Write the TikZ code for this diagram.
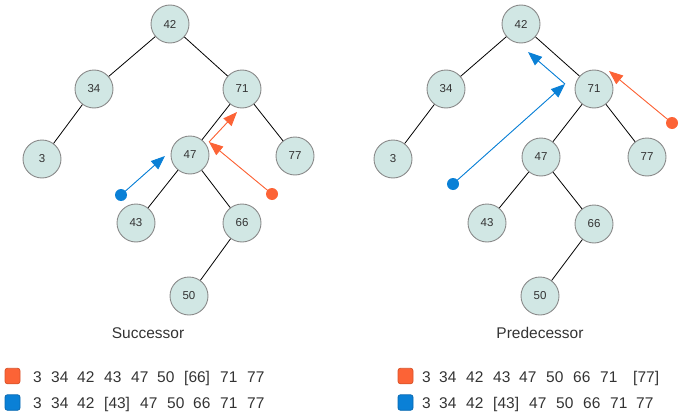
\documentclass[tikz,border=0pt]{standalone}
\usepackage{fontspec}
\setmainfont{Liberation Sans}
\usetikzlibrary{arrows.meta}
\definecolor{nodefill}{HTML}{D1E7E4}
\definecolor{nodeline}{HTML}{8A8A8A}
\definecolor{txt}{HTML}{333333}
\definecolor{org}{HTML}{FC6336}
\definecolor{orgdark}{HTML}{D9542B}
\definecolor{blu}{HTML}{0A80D6}
\definecolor{bludark}{HTML}{0868B0}
\tikzset{
  tnode/.style={circle,draw=nodeline,fill=nodefill,line width=0.9pt,minimum size=38pt,inner sep=0pt,font=\fontsize{11.5}{13}\selectfont,text=txt},
  edge/.style={draw=black,line width=0.8pt},
  dotmark/.style={circle,inner sep=0pt,minimum size=12pt},
  parrow/.style={line width=0.9pt,-{Triangle[length=14pt,width=11pt]}},
  tok/.style={anchor=base west,inner sep=0pt,font=\fontsize{15.5}{18}\selectfont,text=txt},
  lab/.style={font=\fontsize{15.5}{18}\selectfont,text=txt,inner sep=0pt},
  legsq/.style={rounded corners=2.5pt,minimum width=15pt,minimum height=15.5pt,inner sep=0pt,line width=0.8pt}
}
\begin{document}
\begin{tikzpicture}[x=1pt,y=-1pt]
\useasboundingbox (0,0) rectangle (683,415);
% left tree
\node[tnode] (a42) at (170,24) {42};
\node[tnode] (a34) at (94,89) {34};
\node[tnode] (a71) at (242,89) {71};
\node[tnode] (a3) at (42,159) {3};
\node[tnode] (a47) at (190,155) {47};
\node[tnode] (a77) at (295,156) {77};
\node[tnode] (a43) at (136,223) {43};
\node[tnode] (a66) at (242,223) {66};
\node[tnode] (a50) at (189,296) {50};
\draw[edge] (a42)--(a34); \draw[edge] (a42)--(a71); \draw[edge] (a34)--(a3);
\draw[edge] (a71)--(a47); \draw[edge] (a71)--(a77); \draw[edge] (a47)--(a43);
\draw[edge] (a47)--(a66); \draw[edge] (a66)--(a50);
% right tree
\node[tnode] (b42) at (521,24) {42};
\node[tnode] (b34) at (446,89) {34};
\node[tnode] (b71) at (594,89) {71};
\node[tnode] (b3) at (393,159) {3};
\node[tnode] (b47) at (541,157) {47};
\node[tnode] (b77) at (647,157) {77};
\node[tnode] (b43) at (487,223) {43};
\node[tnode] (b66) at (594,224) {66};
\node[tnode] (b50) at (540,296) {50};
\draw[edge] (b42)--(b34); \draw[edge] (b42)--(b71); \draw[edge] (b34)--(b3);
\draw[edge] (b71)--(b47); \draw[edge] (b71)--(b77); \draw[edge] (b47)--(b43);
\draw[edge] (b47)--(b66); \draw[edge] (b66)--(b50);
% left arrows
\node[dotmark,fill=blu] (ldb) at (121,195) {};
\coordinate (ltb) at (165,156);
\draw[parrow,draw=blu,fill=blu] (ldb.center)--(ltb);
\node[dotmark,fill=org] (ldo) at (272,194) {};
\coordinate (lko) at (209,142);
\coordinate (lto) at (237,112);
\draw[parrow,draw=org,fill=org] (ldo.center)--(lko);
\draw[parrow,draw=org,fill=org] (lko)--(lto);
% right arrows
\node[dotmark,fill=blu] (rdb) at (453,184) {};
\coordinate (rkb) at (565,84);
\coordinate (rtb) at (528,52);
\draw[parrow,draw=blu,fill=blu] (rdb.center)--(rkb);
\draw[parrow,draw=blu,fill=blu] (rkb)--(rtb);
\node[dotmark,fill=org] (rdo) at (672,123) {};
\coordinate (rto) at (609,71);
\draw[parrow,draw=org,fill=org] (rdo.center)--(rto);
% labels
\node[lab] (suc) at (148,333) {Successor};
\node[lab] (pre) at (540,333) {Predecessor};
% legends
\node[legsq,fill=org,draw=orgdark] (lq1) at (12.5,376) {};
\node[legsq,fill=blu,draw=bludark] (lq2) at (12.5,402.5) {};
\node[legsq,fill=org,draw=orgdark] (rq1) at (405.5,376) {};
\node[legsq,fill=blu,draw=bludark] (rq2) at (405.5,402.5) {};
\foreach \x/\t [count=\i] in {33/3,51/34,77/42,104/43,131/47,157/50,184/[66],220/71,247/77}
  \node[tok] (l1t\i) at (\x,382) {\t};
\foreach \x/\t [count=\i] in {33/3,51/34,77/42,104/[43],140/47,167/50,193/66,220/71,247/77}
  \node[tok] (l2t\i) at (\x,408) {\t};
\foreach \x/\t [count=\i] in {422/3,439/34,466/42,493/43,519/47,546/50,573/66,600/71,633/[77]}
  \node[tok] (r1t\i) at (\x,382) {\t};
\foreach \x/\t [count=\i] in {422/3,439/34,466/42,493/[43],529/47,556/50,583/66,610/71,636/77}
  \node[tok] (r2t\i) at (\x,408) {\t};
\end{tikzpicture}
\end{document}
